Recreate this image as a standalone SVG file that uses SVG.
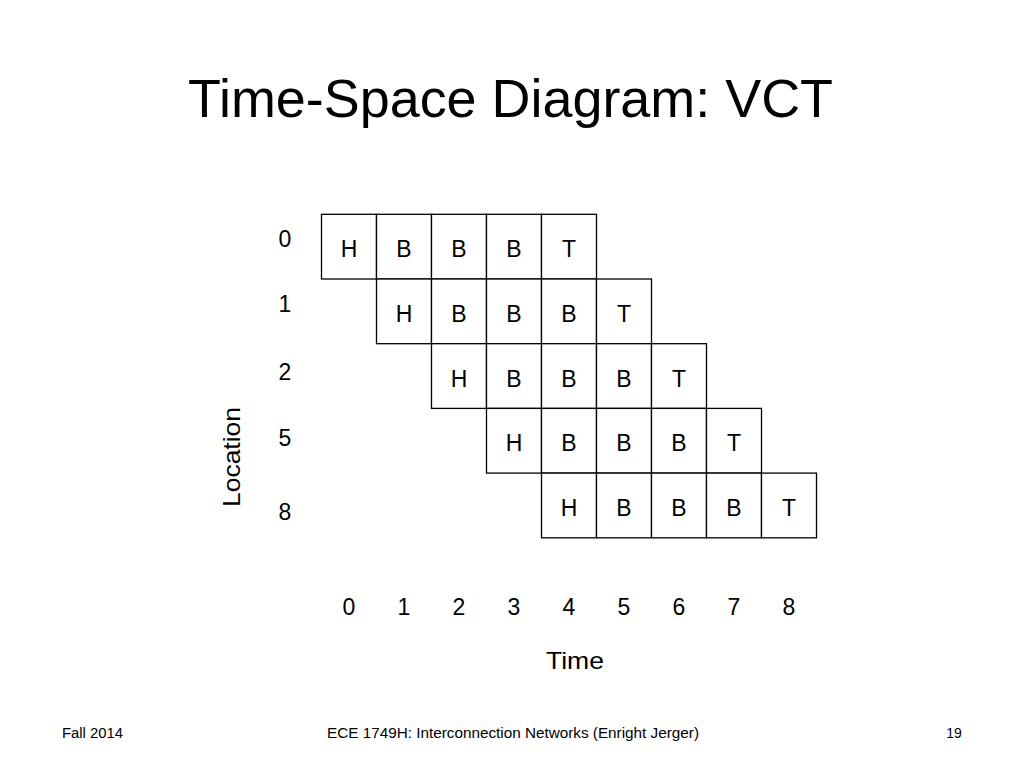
<svg xmlns="http://www.w3.org/2000/svg" width="1024" height="768" viewBox="0 0 1024 768">
<style>
text{font-family:"Liberation Sans",Arial,sans-serif;fill:#000}
.cell rect{fill:#fff;stroke:#000;stroke-width:1.3}
.cell text{font-size:23px;text-anchor:middle}
.lab{font-size:23px;text-anchor:middle}
.foot{font-size:14px;fill:#898989}
</style>
<rect width="1024" height="768" fill="#fff"/>
<text x="510.5" y="117" font-size="54" text-anchor="middle" textLength="645" lengthAdjust="spacingAndGlyphs">Time-Space Diagram: VCT</text>
<g id="row0" class="cell" transform="translate(321.5,214.3)">
<rect x="0" y="0" width="55" height="64.7"/><rect x="55" y="0" width="55" height="64.7"/><rect x="110" y="0" width="55" height="64.7"/><rect x="165" y="0" width="55" height="64.7"/><rect x="220" y="0" width="55" height="64.7"/>
<text x="27.5" y="43">H</text><text x="82.5" y="43">B</text><text x="137.5" y="43">B</text><text x="192.5" y="43">B</text><text x="247.5" y="43">T</text>
</g>
<g id="row1" class="cell" transform="translate(376.5,279)">
<rect x="0" y="0" width="55" height="64.7"/><rect x="55" y="0" width="55" height="64.7"/><rect x="110" y="0" width="55" height="64.7"/><rect x="165" y="0" width="55" height="64.7"/><rect x="220" y="0" width="55" height="64.7"/>
<text x="27.5" y="43">H</text><text x="82.5" y="43">B</text><text x="137.5" y="43">B</text><text x="192.5" y="43">B</text><text x="247.5" y="43">T</text>
</g>
<g id="row2" class="cell" transform="translate(431.5,343.7)">
<rect x="0" y="0" width="55" height="64.7"/><rect x="55" y="0" width="55" height="64.7"/><rect x="110" y="0" width="55" height="64.7"/><rect x="165" y="0" width="55" height="64.7"/><rect x="220" y="0" width="55" height="64.7"/>
<text x="27.5" y="43">H</text><text x="82.5" y="43">B</text><text x="137.5" y="43">B</text><text x="192.5" y="43">B</text><text x="247.5" y="43">T</text>
</g>
<g id="row3" class="cell" transform="translate(486.5,408.4)">
<rect x="0" y="0" width="55" height="64.7"/><rect x="55" y="0" width="55" height="64.7"/><rect x="110" y="0" width="55" height="64.7"/><rect x="165" y="0" width="55" height="64.7"/><rect x="220" y="0" width="55" height="64.7"/>
<text x="27.5" y="43">H</text><text x="82.5" y="43">B</text><text x="137.5" y="43">B</text><text x="192.5" y="43">B</text><text x="247.5" y="43">T</text>
</g>
<g id="row4" class="cell" transform="translate(541.5,473.1)">
<rect x="0" y="0" width="55" height="64.7"/><rect x="55" y="0" width="55" height="64.7"/><rect x="110" y="0" width="55" height="64.7"/><rect x="165" y="0" width="55" height="64.7"/><rect x="220" y="0" width="55" height="64.7"/>
<text x="27.5" y="43">H</text><text x="82.5" y="43">B</text><text x="137.5" y="43">B</text><text x="192.5" y="43">B</text><text x="247.5" y="43">T</text>
</g>
<g id="yaxis" class="lab">
<text x="285" y="247">0</text><text x="285" y="312">1</text><text x="285" y="380">2</text><text x="285" y="446">5</text><text x="285" y="520">8</text>
<text transform="translate(240,457) rotate(-90)" text-anchor="middle" font-size="24" textLength="100" lengthAdjust="spacingAndGlyphs">Location</text>
</g>
<g id="xaxis" class="lab">
<text x="349" y="615">0</text><text x="404" y="615">1</text><text x="459" y="615">2</text><text x="514" y="615">3</text><text x="569" y="615">4</text><text x="624" y="615">5</text><text x="679" y="615">6</text><text x="734" y="615">7</text><text x="789" y="615">8</text>
<text x="575" y="669" font-size="24" textLength="58" lengthAdjust="spacingAndGlyphs">Time</text>
</g>
<g id="footer" class="foot">
<text x="62" y="738" textLength="61" lengthAdjust="spacingAndGlyphs">Fall 2014</text>
<text x="513" y="738" text-anchor="middle" textLength="372" lengthAdjust="spacingAndGlyphs">ECE 1749H: Interconnection Networks (Enright Jerger)</text>
<text x="954" y="738" text-anchor="middle">19</text>
</g>
</svg>
